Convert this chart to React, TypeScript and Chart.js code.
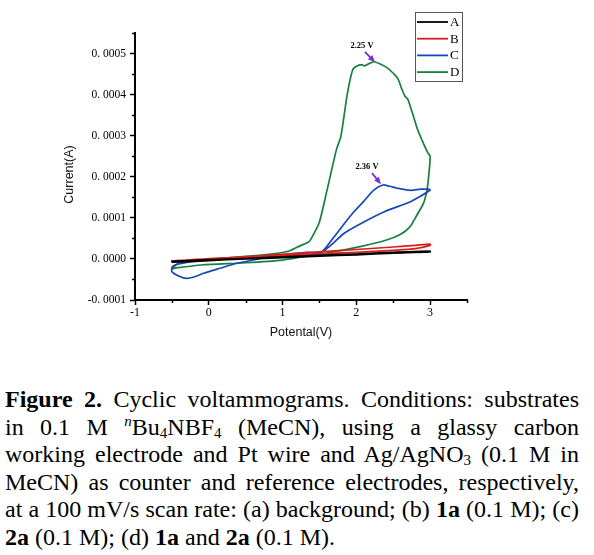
import React, { useEffect, useRef } from 'react';
import { Chart, registerables } from 'chart.js';

Chart.register(...registerables);

// ---- data (potential V, current A) ----
const seriesNames = ['A', 'B', 'C', 'D'];
const seriesColors = ['#000000', '#d81e1e', '#1848b8', '#17803f'];

const aV = [-0.5, 0, 0.5, 1, 1.5, 2, 2.5, 3, 3, 2.5, 2, 1.5, 1, 0.5, 0, -0.5, -0.5];
const aI = [-0.000008, -0.000004, 0.0, 0.000003, 0.000007, 0.00001, 0.000014, 0.000017, 0.000019, 0.000016, 0.000012, 0.000009, 0.000005, 0.000001, -0.000002, -0.000006, -0.000008];

const bV = [-0.5, 0, 0.5, 1, 1.5, 2, 2.5, 2.8, 3, 3, 2.8, 2.5, 2, 1.5, 1, 0.5, 0, -0.5, -0.5];
const bI = [-0.0000075, -0.000002, 0.000003, 0.000008, 0.000012, 0.000016, 0.000021, 0.000025, 0.000033, 0.000036, 0.000033, 0.000029, 0.000023, 0.000017, 0.000011, 0.000005, 0.0000005, -0.000005, -0.0000075];

const cV = [-0.5, -0.43, -0.21, 0.15, 0.6, 1.0, 1.3, 1.5, 1.57, 1.7, 1.93, 2.1, 2.24, 2.36, 2.45, 2.56, 2.74, 2.88, 3.0,
  2.74, 2.38, 2.07, 1.84, 1.66, 1.52, 1.33, 0.97, 0.6, 0.38, 0.15, -0.07, -0.2, -0.3, -0.4, -0.5, -0.5];
const cI = [-0.000019, -0.000013, -0.0000068, -0.000001, 0.000003, 0.0000075, 0.00001, 0.000014, 0.000024, 0.000054, 0.000107, 0.00014, 0.000168, 0.00018, 0.000177, 0.000172, 0.000167, 0.00017, 0.000168,
  0.00014, 0.000115, 0.000087, 0.000063, 0.000034, 0.000016, 0.000016, 0.0000095, -0.0000027, -0.0000106, -0.0000228, -0.000035, -0.000044, -0.0000475, -0.000042, -0.000031, -0.000019];

const dV = [-0.5, -0.42, -0.3, 0, 0.5, 0.9, 1.1, 1.25, 1.36, 1.42, 1.5, 1.6, 1.73, 1.79, 1.88, 1.95, 2.0, 2.07, 2.11, 2.18, 2.24, 2.33, 2.42, 2.5, 2.56, 2.62, 2.66, 2.7, 2.76, 2.83, 2.9, 2.97, 3.0,
  2.985, 2.96, 2.92, 2.886, 2.8, 2.727, 2.6, 2.41, 2.05, 1.6, 1.3, 1.0, 0.5, -0.1, -0.42, -0.5, -0.5];
const dI = [-0.000022, -0.000012, -0.000007, -0.000001, 0.000006, 0.000013, 0.00002, 0.000033, 0.000042, 0.00006, 0.00009, 0.000165, 0.000266, 0.000298, 0.000404, 0.00046, 0.000469, 0.000473, 0.00047, 0.000476, 0.00048, 0.000474, 0.000465, 0.000452, 0.00044, 0.000412, 0.000396, 0.000388, 0.000355, 0.000315, 0.000285, 0.000258, 0.00025,
  0.00021, 0.00017, 0.00014, 0.000127, 0.0001, 0.000078, 0.00006, 0.000046, 0.00003, 0.000014, 0.000006, -0.0000027, -0.0000093, -0.0000148, -0.0000213, -0.000024, -0.000022];

const seriesV = [aV, bV, cV, dV];
const seriesI = [aI, bI, cI, dI];

const xTickLabels = ['-1', '0', '1', '2', '3'];
const yTickLabels = ['-0. 0001', '0. 0000', '0. 0001', '0. 0002', '0. 0003', '0. 0004', '0. 0005'];
const xMinorTicks = [-0.5, 0.5, 1.5, 2.5, 3.5];
const yMinorTicks = [-0.00005, 0.00005, 0.00015, 0.00025, 0.00035, 0.00045, 0.00055];

const peakLabels = ['2.25 V', '2.36 V'];
const peakLabelPos = [[2.077, 0.000518], [2.145, 0.000224]];
const peakArrowFrom = [[2.117, 0.000504], [2.212, 0.000209]];
const peakArrowTo = [[2.253, 0.000479], [2.334, 0.000182]];

const xTitle = 'Potental(V)';
const yTitle = 'Current(A)';

const decorPlugin = {
  id: 'decor',
  afterDraw(chart: any) {
    const { ctx, chartArea, scales } = chart;
    const x = scales.x;
    const y = scales.y;
    ctx.save();
    // minor ticks
    ctx.strokeStyle = '#000';
    ctx.lineWidth = 1.5;
    ctx.beginPath();
    for (const v of xMinorTicks) {
      const px = Math.round(x.getPixelForValue(v)) + 0.5;
      ctx.moveTo(px, chartArea.bottom);
      ctx.lineTo(px, chartArea.bottom + 3);
    }
    for (const v of yMinorTicks) {
      const py = Math.round(y.getPixelForValue(v)) + 0.5;
      ctx.moveTo(chartArea.left, py);
      ctx.lineTo(chartArea.left - 3, py);
    }
    ctx.stroke();

    // axis titles
    ctx.fillStyle = '#111';
    ctx.font = '12.5px "Liberation Sans", Arial, sans-serif';
    ctx.textAlign = 'center';
    ctx.textBaseline = 'middle';
    ctx.fillText(xTitle, (chartArea.left + chartArea.right) / 2, chartArea.bottom + 33);
    ctx.save();
    ctx.translate(chartArea.left - 65, (chartArea.top + chartArea.bottom) / 2 + 8);
    ctx.rotate(-Math.PI / 2);
    ctx.fillText(yTitle, 0, 0);
    ctx.restore();

    // peak annotations
    for (let i = 0; i < peakLabels.length; i++) {
      const tx = x.getPixelForValue(peakLabelPos[i][0]);
      const ty = y.getPixelForValue(peakLabelPos[i][1]);
      ctx.fillStyle = '#000';
      ctx.font = 'bold 8.5px "Liberation Serif", serif';
      ctx.textAlign = 'center';
      ctx.textBaseline = 'middle';
      ctx.fillText(peakLabels[i], tx, ty);
      const x0 = x.getPixelForValue(peakArrowFrom[i][0]);
      const y0 = y.getPixelForValue(peakArrowFrom[i][1]);
      const x1 = x.getPixelForValue(peakArrowTo[i][0]);
      const y1 = y.getPixelForValue(peakArrowTo[i][1]);
      const ang = Math.atan2(y1 - y0, x1 - x0);
      ctx.strokeStyle = '#7b2fd0';
      ctx.fillStyle = '#7b2fd0';
      ctx.lineWidth = 1.8;
      ctx.beginPath();
      ctx.moveTo(x0, y0);
      ctx.lineTo(x1 - 4 * Math.cos(ang), y1 - 4 * Math.sin(ang));
      ctx.stroke();
      ctx.beginPath();
      ctx.moveTo(x1, y1);
      ctx.lineTo(x1 - 7 * Math.cos(ang) + 3 * Math.sin(ang), y1 - 7 * Math.sin(ang) - 3 * Math.cos(ang));
      ctx.lineTo(x1 - 7 * Math.cos(ang) - 3 * Math.sin(ang), y1 - 7 * Math.sin(ang) + 3 * Math.cos(ang));
      ctx.closePath();
      ctx.fill();
    }

    // legend
    const bx = chartArea.right - 52;
    const by = 12;
    ctx.strokeStyle = '#555';
    ctx.lineWidth = 1;
    ctx.strokeRect(bx + 0.5, by + 0.5, 47, 69);
    ctx.font = '13px "Liberation Serif", serif';
    ctx.textAlign = 'left';
    ctx.textBaseline = 'middle';
    chart.data.datasets.forEach((ds: any, i: number) => {
      const ry = by + 10 + i * 16.7;
      ctx.strokeStyle = ds.borderColor;
      ctx.lineWidth = 1.8;
      ctx.beginPath();
      ctx.moveTo(bx + 2, ry);
      ctx.lineTo(bx + 33, ry);
      ctx.stroke();
      ctx.fillStyle = '#000';
      ctx.fillText(ds.label, bx + 35, ry + 0.5);
    });
    ctx.restore();
  },
};

function ChartView() {
  const ref = useRef<HTMLCanvasElement | null>(null);
  useEffect(() => {
    if (!ref.current) return;
    const datasets = seriesNames.map((name, i) => ({
      label: name,
      data: seriesV[i].map((v, j) => ({ x: v, y: seriesI[i][j] })),
      borderColor: seriesColors[i],
      backgroundColor: seriesColors[i],
      borderWidth: 1.7,
      pointRadius: 0,
      showLine: true,
      tension: 0.25,
      fill: false,
    }));
    const chart = new Chart(ref.current, {
      type: 'scatter',
      data: { datasets },
      options: {
        animation: false,
        responsive: false,
        devicePixelRatio: 1,
        layout: { padding: { left: 0, top: 33, right: 127, bottom: 0 } },
        plugins: { legend: { display: false }, tooltip: { enabled: false } },
        scales: {
          x: {
            type: 'linear',
            min: -1,
            max: 3.5,
            afterFit: (s: any) => { s.height = 60; },
            grid: { drawOnChartArea: false, drawTicks: true, tickLength: 5, tickWidth: 1.5, tickColor: '#000' },
            border: { display: true, color: '#000', width: 2 },
            ticks: {
              stepSize: 1,
              includeBounds: false,
              padding: 1,
              color: '#000',
              font: { family: '"Liberation Serif", serif', size: 12 },
              maxRotation: 0,
              callback: (value: any) => xTickLabels[Math.round(Number(value)) + 1] ?? '',
            },
          },
          y: {
            type: 'linear',
            min: -0.0001,
            max: 0.00055,
            afterFit: (s: any) => { s.width = 135; },
            grid: { drawOnChartArea: false, drawTicks: true, tickLength: 5, tickWidth: 1.5, tickColor: '#000' },
            border: { display: true, color: '#000', width: 2 },
            ticks: {
              stepSize: 0.0001,
              includeBounds: false,
              padding: 4,
              color: '#000',
              font: { family: '"Liberation Serif", serif', size: 11.5 },
              callback: (value: any) => {
                const k = Math.round(Number(value) / 0.0001);
                if (Math.abs(Number(value) - k * 0.0001) > 1e-9) return '';
                return yTickLabels[k + 1] ?? '';
              },
            },
          },
        },
      },
      plugins: [decorPlugin],
    });
    return () => chart.destroy();
  }, []);
  return <canvas ref={ref} width={594} height={360} style={{ display: 'block', position: 'absolute', left: 0, top: 0 }} />;
}

const sup: React.CSSProperties = { fontSize: '15px', position: 'relative', top: '-9px', fontStyle: 'italic' };
const sub: React.CSSProperties = { fontSize: '15px', position: 'relative', top: '3px' };
const lineStyle: React.CSSProperties = { whiteSpace: 'nowrap', textAlign: 'justify', textAlignLast: 'justify' as any, height: '27.5px', lineHeight: '27.5px' };
const lastLine: React.CSSProperties = { whiteSpace: 'nowrap', textAlign: 'left', height: '27.5px', lineHeight: '27.5px' };

export default function App() {
  return (
    <div style={{ position: 'fixed', left: 0, top: 0, width: 594, height: 555, background: '#fff', overflow: 'hidden' }}>
      <ChartView />
      <div style={{ position: 'absolute', left: 5, top: 386, width: 574, fontFamily: '"Liberation Serif", "Times New Roman", serif', fontSize: '24px', color: '#000' }}>
        <div style={lineStyle}><b>Figure 2.</b> Cyclic voltammograms. Conditions: substrates</div>
        <div style={lineStyle}>in 0.1 M <span style={sup}>n</span>Bu<span style={sub}>4</span>NBF<span style={sub}>4</span> (MeCN), using a glassy carbon</div>
        <div style={lineStyle}>working electrode and Pt wire and Ag/AgNO<span style={sub}>3</span> (0.1 M in</div>
        <div style={lineStyle}>MeCN) as counter and reference electrodes, respectively,</div>
        <div style={lineStyle}>at a 100 mV/s scan rate: (a) background; (b) <b>1a</b> (0.1 M); (c)</div>
        <div style={lastLine}><b>2a</b> (0.1 M); (d) <b>1a</b> and <b>2a</b> (0.1 M).</div>
      </div>
    </div>
  );
}
